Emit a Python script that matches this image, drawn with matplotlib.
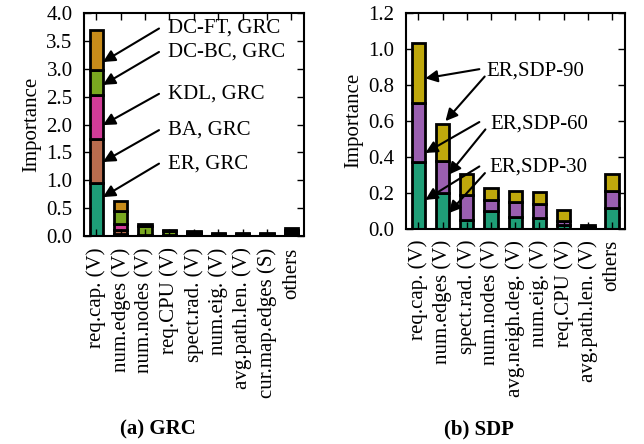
import matplotlib.pyplot as plt
import numpy as np

plt.rcParams['font.family'] = ['Liberation Serif', 'DejaVu Serif']

# (a) GRC
grc_labels = ['req.cap. (V)', 'num.edges (V)', 'num.nodes (V)', 'req.CPU (V)', 'spect.rad. (V)',
              'num.eig. (V)', 'avg.path.len. (V)', 'cur.map.edges (S)', 'others']
grc_names = ['ER, GRC', 'BA, GRC', 'KDL, GRC', 'DC-BC, GRC', 'DC-FT, GRC']
grc_er = [0.95, 0.04, 0.01, 0.01, 0.02, 0.01, 0.01, 0.01, 0.03]
grc_ba = [0.80, 0.08, 0.01, 0.01, 0.02, 0.01, 0.01, 0.01, 0.03]
grc_kdl = [0.78, 0.09, 0.01, 0.01, 0.02, 0.01, 0.01, 0.01, 0.04]
grc_dcbc = [0.45, 0.25, 0.16, 0.06, 0.02, 0.01, 0.01, 0.01, 0.02]
grc_dcft = [0.72, 0.17, 0.02, 0.02, 0.02, 0.01, 0.01, 0.01, 0.03]
grc_colors = ['#1e9e78', '#b86c4e', '#d23c98', '#7aa820', '#c88c1a']

# (b) SDP
sdp_labels = ['req.cap. (V)', 'num.edges (V)', 'spect.rad. (V)', 'num.nodes (V)', 'avg.neigh.deg. (V)',
              'num.eig. (V)', 'req.CPU (V)', 'avg.path.len. (V)', 'others']
sdp_names = ['ER,SDP-30', 'ER,SDP-60', 'ER,SDP-90']
sdp_30 = [0.37, 0.20, 0.05, 0.10, 0.065, 0.06, 0.02, 0.005, 0.115]
sdp_60 = [0.33, 0.175, 0.135, 0.06, 0.085, 0.075, 0.025, 0.005, 0.095]
sdp_90 = [0.33, 0.205, 0.12, 0.065, 0.06, 0.07, 0.06, 0.01, 0.095]
sdp_colors = ['#1f9e77', '#9a5fb0', '#bfa80c']

fig = plt.figure(figsize=(6.44, 4.44), dpi=100)
ax1 = fig.add_axes([0.130, 0.468, 0.342, 0.503])
ax2 = fig.add_axes([0.630, 0.485, 0.340, 0.486])

FS = 15


def stack(ax, series, colors):
    x = np.arange(len(series[0]))
    bottom = np.zeros(len(x))
    for s, c in zip(series, colors):
        ax.bar(x, s, 0.55, bottom=bottom, color=c, edgecolor='black', linewidth=2.0)
        bottom += np.array(s)
    return x


def style(ax, x, labels):
    ax.set_xticks(x)
    ax.set_xticklabels(labels, rotation=90, fontsize=FS)
    ax.tick_params(direction='in', length=5, width=1, top=True, right=True, labelsize=FS, pad=8)
    ax.set_xlim(-0.52, 8.52)
    for sp in ax.spines.values():
        sp.set_linewidth(1.5)
    ax.set_ylabel('Importance', fontsize=FS, labelpad=4)


x1 = stack(ax1, [grc_er, grc_ba, grc_kdl, grc_dcbc, grc_dcft], grc_colors)
style(ax1, x1, grc_labels)
ax1.set_ylim(0, 4.0)
ax1.set_yticks(np.arange(0, 4.01, 0.5))
ax1.set_yticklabels(['%.1f' % v for v in np.arange(0, 4.01, 0.5)])

x2 = stack(ax2, [sdp_30, sdp_60, sdp_90], sdp_colors)
style(ax2, x2, sdp_labels)
ax2.set_ylim(0, 1.2)
ax2.set_yticks(np.arange(0, 1.21, 0.2))
ax2.set_yticklabels(['%.1f' % v for v in np.arange(0, 1.21, 0.2)])

arrow = dict(arrowstyle='-|>', color='black', lw=1.5, mutation_scale=18, shrinkA=0, shrinkB=0)

# GRC annotations: text y, arrow tail y, arrow head y
grc_text_y = [1.30, 1.90, 2.55, 3.30, 3.72]
grc_head_y = [0.70, 1.33, 1.99, 2.71, 3.12]
for name, ty, hy in zip(grc_names, grc_text_y, grc_head_y):
    ax1.annotate('', xy=(0.27, hy), xytext=(2.57, ty), arrowprops=arrow)
    ax1.text(2.94, ty, name, fontsize=FS, va='center', ha='left')

# SDP annotations
sdp_text = [(2.93, 0.34), (2.96, 0.58), (2.80, 0.877)]
sdp_arrows = [
    [((2.52, 0.346), (0.29, 0.160)), ((2.75, 0.309), (1.25, 0.086))],
    [((2.52, 0.593), (0.29, 0.421)), ((2.77, 0.552), (1.25, 0.300))],
    [((2.52, 0.887), (0.29, 0.836)), ((2.74, 0.846), (1.12, 0.598))],
]
for name, (tx, ty), arrs in zip(sdp_names, sdp_text, sdp_arrows):
    for tail, head in arrs:
        ax2.annotate('', xy=head, xytext=tail, arrowprops=arrow)
    ax2.text(tx, ty, name, fontsize=FS, va='center', ha='left')

fig.text(0.245, 0.032, '(a) GRC', fontsize=FS, fontweight='bold', ha='center', va='center')
fig.text(0.744, 0.032, '(b) SDP', fontsize=FS, fontweight='bold', ha='center', va='center')

plt.savefig('out.png', dpi=100)
